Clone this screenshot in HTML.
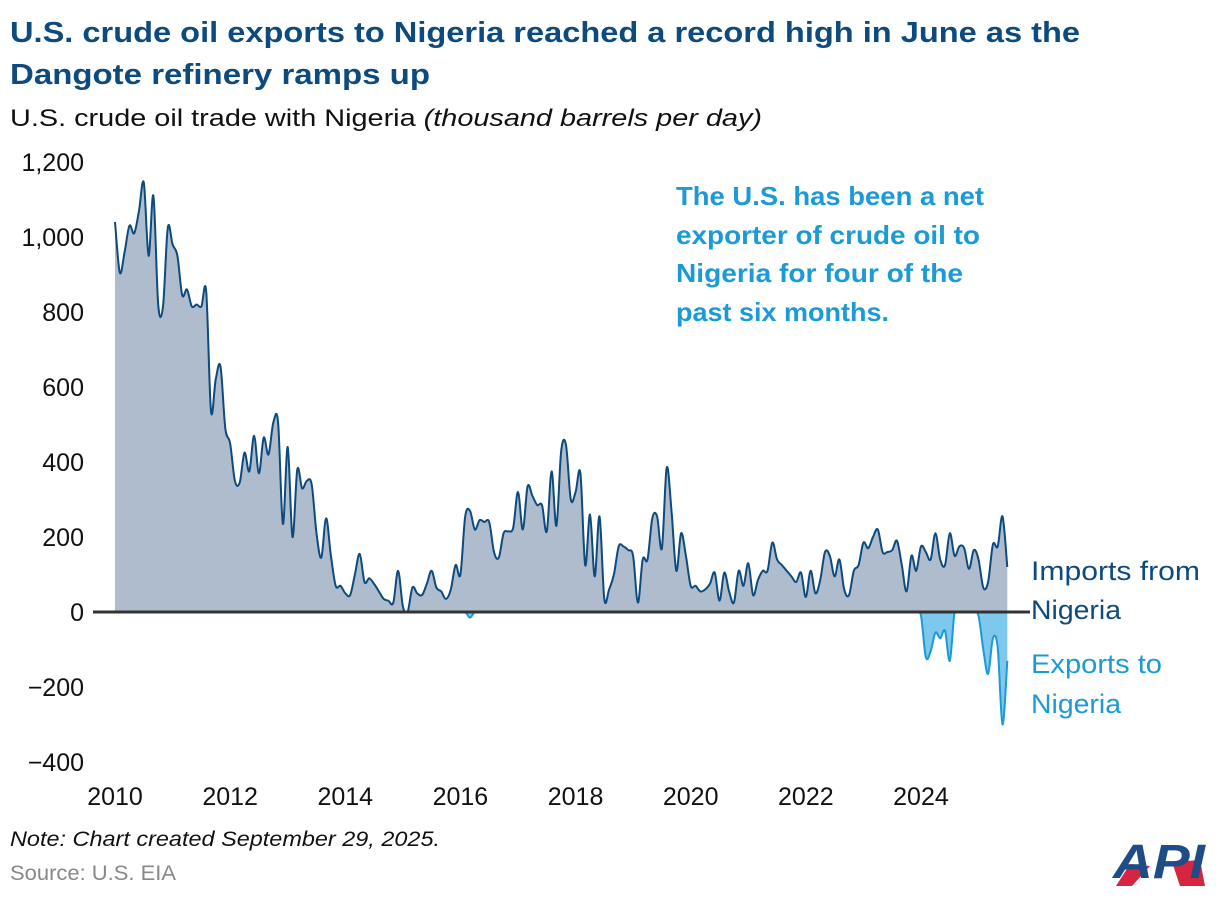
<!DOCTYPE html>
<html><head><meta charset="utf-8"><style>
html,body{margin:0;padding:0;background:#fff;}
svg{display:block;font-family:"Liberation Sans",Arial,sans-serif;}
</style></head><body>
<svg id="chart" width="1220" height="900" viewBox="0 0 1220 900">
<defs>
<clipPath id="below"><rect x="0" y="612" width="1220" height="300"/></clipPath>
<clipPath id="above"><rect x="0" y="0" width="1220" height="612"/></clipPath>
</defs>
<text x="10" y="42" font-size="29" font-weight="bold" fill="#0d4a7e" textLength="1070" lengthAdjust="spacingAndGlyphs">U.S. crude oil exports to Nigeria reached a record high in June as the</text>
<text x="10" y="84" font-size="29" font-weight="bold" fill="#0d4a7e" textLength="420" lengthAdjust="spacingAndGlyphs">Dangote refinery ramps up</text>
<text x="10" y="126" font-size="24" fill="#111" textLength="752" lengthAdjust="spacingAndGlyphs">U.S. crude oil trade with Nigeria <tspan font-style="italic">(thousand barrels per day)</tspan></text>
<g id="yticks"></g>
<g id="xticks"></g>
<g id="series"></g>
<g font-size="26" font-weight="bold" fill="#1a9ad6">
<text x="676" y="205" textLength="308" lengthAdjust="spacingAndGlyphs">The U.S. has been a net</text>
<text x="676" y="244" textLength="304" lengthAdjust="spacingAndGlyphs">exporter of crude oil to</text>
<text x="676" y="282" textLength="287" lengthAdjust="spacingAndGlyphs">Nigeria for four of the</text>
<text x="676" y="321" textLength="213" lengthAdjust="spacingAndGlyphs">past six months.</text>
</g>
<g font-size="27" fill="#0d4a7e">
<text x="1031" y="580" textLength="169" lengthAdjust="spacingAndGlyphs">Imports from</text><text x="1031" y="619" textLength="90" lengthAdjust="spacingAndGlyphs">Nigeria</text></g>
<g font-size="27" fill="#1a9ad6">
<text x="1031" y="673" textLength="131" lengthAdjust="spacingAndGlyphs">Exports to</text><text x="1031" y="713" textLength="90" lengthAdjust="spacingAndGlyphs">Nigeria</text></g>
<text x="10" y="846" font-size="21" font-style="italic" fill="#111" textLength="430" lengthAdjust="spacingAndGlyphs">Note: Chart created September 29, 2025.</text>
<text x="10" y="880" font-size="21" fill="#888" textLength="166" lengthAdjust="spacingAndGlyphs">Source: U.S. EIA</text>
<g>
<polygon points="1116,886 1130,864 1150,866 1132,886" fill="#d6253f"/>
<polygon points="1172,862 1200,860 1205,886 1180,886" fill="#d6253f"/>
<text x="1113" y="878" font-size="48" font-weight="bold" font-style="italic" fill="#1d4c86" textLength="92" lengthAdjust="spacingAndGlyphs">API</text>
</g>
</svg>
<script>
const tickValues=[1200,1000,800,600,400,200,0,-200,-400];
const tickLabels=["1,200","1,000","800","600","400","200","0","\u2212200","\u2212400"];
const yearTicks=[2010,2012,2014,2016,2018,2020,2022,2024];
const startYear=2010;
const imports=[1040,905,960,1030,1010,1070,1145,950,1110,820,815,1025,
980,950,845,860,815,820,815,855,535,620,655,490,
450,350,345,425,375,470,370,465,420,505,505,235,
440,200,380,330,350,340,210,145,250,150,70,70,
50,45,100,155,80,90,75,55,35,30,25,110,
15,0,65,50,45,75,110,65,55,35,60,125,
100,255,270,220,245,240,240,160,145,210,215,225,
320,220,335,310,285,285,215,375,230,430,445,300,
320,370,125,260,95,255,35,60,100,175,175,165,
150,25,140,140,250,255,170,385,270,110,210,150,
70,70,55,60,75,105,30,105,55,25,110,70,
130,45,85,110,110,185,140,125,110,95,80,105,
40,110,50,85,160,150,95,140,60,45,110,125,
185,170,200,220,160,160,165,190,125,55,150,110,
175,160,140,210,140,125,210,150,175,170,115,165,
140,65,80,180,175,255,120];
const exports=[];
for(let i=0;i<imports.length;i++) exports.push(0);
exports[74]=-15;
exports[168]=-10;exports[169]=-120;exports[170]=-105;exports[171]=-55;exports[172]=-70;exports[173]=-50;exports[174]=-130;
exports[180]=-10;exports[181]=-100;exports[182]=-165;exports[183]=-70;exports[184]=-95;exports[185]=-300;exports[186]=-130;

const NS="http://www.w3.org/2000/svg";
const yS=v=>612-v*0.375;
const xS=yr=>115+(yr-2010)*57.57;
const xM=i=>xS(startYear+i/12);
function mk(t,a,p){const e=document.createElementNS(NS,t);for(const k in a)e.setAttribute(k,a[k]);p.appendChild(e);return e;}
function spline(vals){
  const pts=vals.map((v,i)=>[xM(i),yS(v)]);
  let d="M"+pts[0][0].toFixed(1)+","+pts[0][1].toFixed(1);
  for(let i=0;i<pts.length-1;i++){
    const p0=pts[i-1]||pts[i],p1=pts[i],p2=pts[i+1],p3=pts[i+2]||p2;
    const c1=[p1[0]+(p2[0]-p0[0])/6,p1[1]+(p2[1]-p0[1])/6];
    const c2=[p2[0]-(p3[0]-p1[0])/6,p2[1]-(p3[1]-p1[1])/6];
    d+=" C"+c1.map(n=>n.toFixed(1))+" "+c2.map(n=>n.toFixed(1))+" "+p2.map(n=>n.toFixed(1));
  }
  return d;
}
const yt=document.getElementById('yticks');
tickValues.forEach((v,i)=>{
  const t=mk('text',{x:84,y:yS(v)+9,'text-anchor':'end','font-size':25,fill:'#111'},yt);
  
  
  t.textContent=tickLabels[i];
});
const xt=document.getElementById('xticks');
yearTicks.forEach(y=>{
  const t=mk('text',{x:xS(y),y:805,'text-anchor':'middle','font-size':25,fill:'#111'},xt);
  
  
  t.textContent=y;
});
const g=document.getElementById('series');
const n=imports.length;
const x0=xM(0).toFixed(1),x1=xM(n-1).toFixed(1),z=yS(0);
const di=spline(imports), de=spline(exports);
const ia=mk('path',{d:di+" L"+x1+","+z+" L"+x0+","+z+" Z",fill:'#aebcce','clip-path':'url(#above)'},g);


const ea=mk('path',{d:de+" L"+x1+","+z+" L"+x0+","+z+" Z",fill:'#7dc8ec','clip-path':'url(#below)'},g);


const el=mk('path',{d:de,fill:'none',stroke:'#1a9ad6','stroke-width':2,'clip-path':'url(#below)'},g);


const il=mk('path',{d:di,fill:'none',stroke:'#0d4a7e','stroke-width':2,'clip-path':'url(#above)'},g);


const zl=mk('line',{x1:93,x2:1030,y1:z,y2:z,stroke:'#333','stroke-width':3},g);


</script>
</body></html>
